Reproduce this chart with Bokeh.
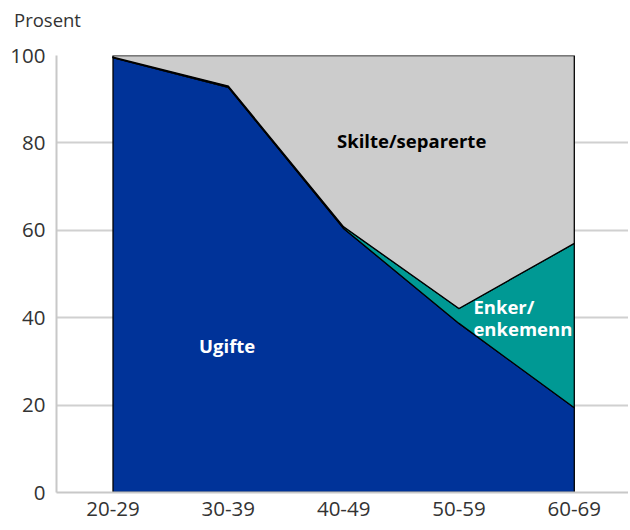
from bokeh.plotting import figure
from bokeh.models import Range1d, FixedTicker, Div
from bokeh.layouts import column
from bokeh.core.properties import value
from bokeh.embed import file_html
from bokeh.resources import INLINE

# Data
categories = ["20-29", "30-39", "40-49", "50-59", "60-69"]
ugifte = [99.5, 92.7, 60.4, 38.7, 19.4]
enker = [0.1, 0.3, 0.4, 3.4, 37.6]
skilte = [round(100 - u - e, 1) for u, e in zip(ugifte, enker)]
y_ticks = [0, 20, 40, 60, 80, 100]

FONT = "Open Sans"
xs = list(range(len(categories)))

# unit label above the y axis
unit = Div(text="Prosent", width=628, height=30, margin=0,
           styles={"font-family": FONT, "font-size": "18.5px", "color": "#333333",
                   "padding-left": "14px", "padding-top": "9px", "line-height": "22px"})

p = figure(width=628, height=498, output_backend="svg", toolbar_location=None,
           x_range=Range1d(-0.49, 4.47), y_range=Range1d(0, 100), margin=0,
           min_border_left=56, min_border_right=0, min_border_bottom=36, min_border_top=25)
p.outline_line_color = None
p.background_fill_color = "white"

# cumulative bounds
c1 = ugifte
c2 = [u + e for u, e in zip(ugifte, enker)]
c3 = [a + s for a, s in zip(c2, skilte)]

def band(lo, hi):
    px = xs + xs[::-1]
    py = hi + lo[::-1]
    return px, py

zero = [0] * len(xs)
for lo, hi, col in [(zero, c1, "#003399"), (c1, c2, "#009994"), (c2, c3, "#cccccc")]:
    px, py = band(lo, hi)
    p.patch(px, py, fill_color=col, line_color="black", line_width=1.3, line_join="miter")

# axes
p.xaxis.ticker = FixedTicker(ticks=xs)
p.xaxis.major_label_overrides = {i: c for i, c in enumerate(categories)}
p.yaxis.ticker = FixedTicker(ticks=y_ticks)
for ax in (p.xaxis[0], p.yaxis[0]):
    ax.axis_line_color = "#c8c8c8"
    ax.axis_line_width = 2
    ax.major_tick_line_color = None
    ax.minor_tick_line_color = None
    ax.major_label_text_font = FONT
    ax.major_label_text_font_size = "20.5px"
    ax.major_label_text_color = "#333333"
p.xaxis.major_label_standoff = 3
p.yaxis.major_label_standoff = 5

p.xgrid.grid_line_color = None
p.ygrid.ticker = FixedTicker(ticks=y_ticks[1:])
p.ygrid.grid_line_color = "#d0d0d0"
p.ygrid.grid_line_width = 2
p.ygrid.level = "underlay"

# series labels
p.text(x=[2.59], y=[80.5], text=["Skilte/separerte"], text_font=value(FONT), text_font_size="18.5px",
       text_font_style="bold", text_color="black", text_align="center", text_baseline="middle")
p.text(x=[0.99], y=[33.6], text=["Ugifte"], text_font=value(FONT), text_font_size="18.5px",
       text_font_style="bold", text_color="white", text_align="center", text_baseline="middle")
p.text(x=[3.125, 3.125], y=[42.6, 37.5], text=["Enker/", "enkemenn"], text_font=value(FONT),
       text_font_size="18.5px", text_font_style="bold", text_color="white", text_align="left",
       text_baseline="middle")

layout = column(unit, p, spacing=0, margin=0)
open("out.html", "w").write(file_html(layout, INLINE))
